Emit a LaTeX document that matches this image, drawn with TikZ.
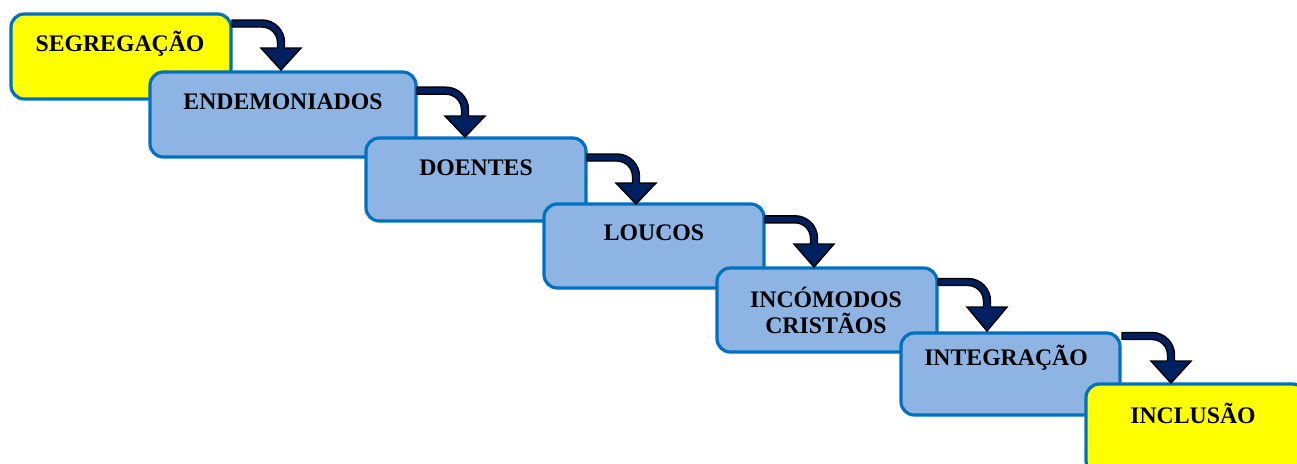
\documentclass[tikz,border=0pt]{standalone}
\usepackage{fontspec}
\setmainfont{Liberation Serif}
\definecolor{boxblue}{HTML}{8EB4E3}
\definecolor{edgeblue}{HTML}{0070C0}
\definecolor{boxyellow}{HTML}{FFFF00}
\definecolor{arrownavy}{HTML}{002060}
\newcommand\bendarrow[5]{%
\filldraw[arrowshape]
 (#1,{#2-3.5}) -- ({#3-19},{#2-3.5})
 .. controls ({#3-19+12.4},{#2-3.5}) and ({#3+3.5},{#2+19-12.4}) .. ({#3+3.5},{#2+19})
 -- ({#3+3.5},#4) -- ({#3+20},#4) -- (#3,#5) -- ({#3-20},#4) -- ({#3-3.5},#4) -- ({#3-3.5},{#2+19})
 .. controls ({#3-3.5},{#2+19-8.56}) and ({#3-19+8.56},{#2+3.5}) .. ({#3-19},{#2+3.5})
 -- (#1,{#2+3.5}) -- cycle;}
\tikzset{
  stagebox/.style={draw=edgeblue, line width=2.4pt, rounded corners=10pt, fill=boxblue, inner sep=0pt, outer sep=0pt},
  endbox/.style={stagebox, fill=boxyellow},
  stagetext/.style={font=\fontsize{17.8}{19.5}\selectfont\bfseries, align=center, inner sep=0pt},
  arrowshape/.style={fill=arrownavy, draw=black, line width=1.1pt, line join=miter}
}
\begin{document}
\begin{tikzpicture}[x=0.75pt,y=-0.75pt]
\useasboundingbox (0,0) rectangle (1297,464);
% boxes (drawn in order so later ones overlap earlier)
\node[endbox, minimum width=220*0.75pt, minimum height=85*0.75pt] (b1) at (121,56.5) {};
\node[stagebox, minimum width=266*0.75pt, minimum height=85*0.75pt] (b2) at (283,114.5) {};
\node[stagebox, minimum width=220*0.75pt, minimum height=83*0.75pt] (b3) at (476,179.5) {};
\node[stagebox, minimum width=220*0.75pt, minimum height=84*0.75pt] (b4) at (654,246) {};
\node[stagebox, minimum width=220*0.75pt, minimum height=84*0.75pt] (b5) at (827,310) {};
\node[stagebox, minimum width=219*0.75pt, minimum height=82*0.75pt] (b6) at (1010.5,374) {};
\node[endbox, minimum width=220*0.75pt, minimum height=90*0.75pt] (b7) at (1196,429) {};
% texts
\node[stagetext] (t1) at (120,44) {SEGREGAÇÃO};
\node[stagetext] (t2) at (283,102) {ENDEMONIADOS};
\node[stagetext] (t3) at (476,168) {DOENTES};
\node[stagetext] (t4) at (654,233) {LOUCOS};
\node[stagetext] (t5) at (826,310) {INCÓMODOS\\CRISTÃOS};
\node[stagetext] (t6) at (1006,358) {INTEGRAÇÃO};
\node[stagetext] (t7) at (1193,413) {INCLUSÃO};
% bent arrows
\bendarrow{232}{23.5}{281}{48}{70}
\bendarrow{417}{90.7}{465}{116}{137}
\bendarrow{587}{157.5}{636}{183}{204}
\bendarrow{765}{219.3}{814}{244}{267}
\bendarrow{938}{282}{987}{307}{331}
\bendarrow{1122}{336}{1171}{361}{383}
\end{tikzpicture}
\end{document}
